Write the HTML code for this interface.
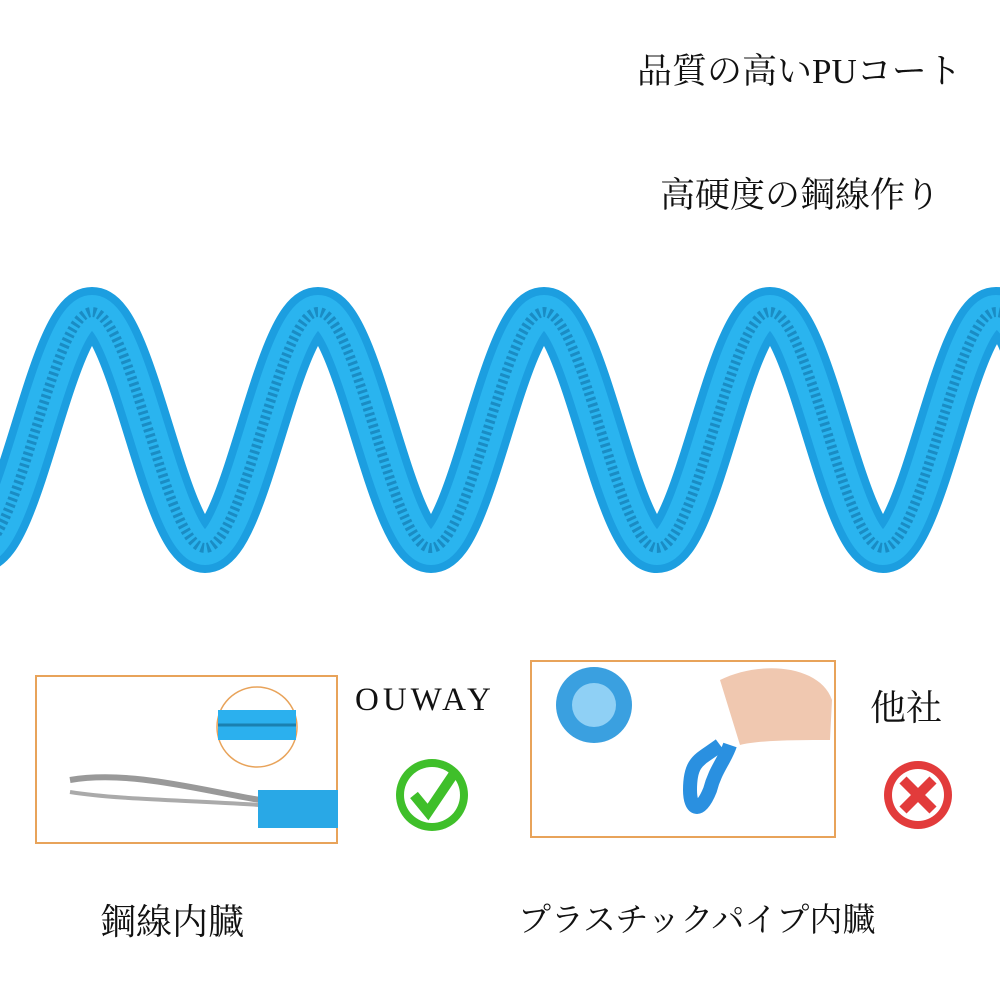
<!DOCTYPE html>
<html><head><meta charset="utf-8"><style>
body{margin:0;width:1000px;height:1000px;background:#fff;overflow:hidden;position:relative;font-family:"Liberation Serif","Noto Serif CJK SC",serif;}
.t{position:absolute;color:#111;white-space:nowrap;}
</style></head><body>
<div class="t" style="left:637px;top:44px;font-size:35px;">品質の高いPUコート</div>
<div class="t" style="left:660px;top:168px;font-size:35px;">高硬度の鋼線作り</div>
<svg width="1000" height="1000" style="position:absolute;left:0;top:0">
<g fill="none" stroke-linecap="butt">
<path d="M-21,548 C19,548 52,312 92,312 C132,312 165,548 205,548 C245,548 278,312 318,312 C358,312 391,548 431,548 C471,548 504,312 544,312 C584,312 617,548 657,548 C697,548 730,312 770,312 C810,312 843,548 883,548 C923,548 956,312 996,312 C1026,312 1040,400 1050,450" stroke="#1c9ee0" stroke-width="50"/>
<path d="M-21,548 C19,548 52,312 92,312 C132,312 165,548 205,548 C245,548 278,312 318,312 C358,312 391,548 431,548 C471,548 504,312 544,312 C584,312 617,548 657,548 C697,548 730,312 770,312 C810,312 843,548 883,548 C923,548 956,312 996,312 C1026,312 1040,400 1050,450" stroke="#2ab4ef" stroke-width="34"/>
<path d="M-21,548 C19,548 52,312 92,312 C132,312 165,548 205,548 C245,548 278,312 318,312 C358,312 391,548 431,548 C471,548 504,312 544,312 C584,312 617,548 657,548 C697,548 730,312 770,312 C810,312 843,548 883,548 C923,548 956,312 996,312 C1026,312 1040,400 1050,450" stroke="#1a8cc4" stroke-width="10" stroke-dasharray="3 3"/>
</g>
<rect x="36" y="676" width="301" height="167" fill="#fff" stroke="#e8a35a" stroke-width="2"/>
<path d="M70,780 C130,770 200,790 260,800" stroke="#999" stroke-width="6" fill="none"/>
<path d="M70,792 C120,800 190,800 260,805" stroke="#aaa" stroke-width="4" fill="none"/>
<rect x="258" y="790" width="80" height="38" fill="#29a8e6"/>
<circle cx="257" cy="727" r="40" fill="#fff" stroke="#e8a35a" stroke-width="1.5"/>
<rect x="218" y="710" width="78" height="30" fill="#2bb0ee"/>
<line x1="218" y1="725" x2="296" y2="725" stroke="#1a80b0" stroke-width="3"/>
<rect x="531" y="661" width="304" height="176" fill="#fff" stroke="#e8a35a" stroke-width="2"/>
<circle cx="594" cy="705" r="38" fill="#3aa0e0"/>
<circle cx="594" cy="705" r="22" fill="#8fd0f5"/>
<path d="M720,680 C760,660 820,665 832,700 L830,740 C800,740 760,740 740,745 Z" fill="#f0c8b0"/>
<path d="M720,745 C700,760 690,760 690,790 C690,810 700,815 710,790 C715,770 725,760 730,745" stroke="#2a90e0" stroke-width="14" fill="none"/>
<circle cx="432" cy="795" r="36" fill="#3fbf2a"/>
<circle cx="432" cy="795" r="28" fill="#fff"/>
<path d="M414,795 L428,812 L455,772" stroke="#3fbf2a" stroke-width="10" fill="none"/>
<circle cx="918" cy="795" r="34" fill="#e23b3b"/>
<circle cx="918" cy="795" r="26" fill="#fff"/>
<path d="M903,780 L933,810 M933,780 L903,810" stroke="#e23b3b" stroke-width="10"/>
</svg>
<div class="t" style="left:355px;top:682px;font-size:33px;letter-spacing:4px;">OUWAY</div>
<div class="t" style="left:870px;top:680px;font-size:36px;">他社</div>
<div class="t" style="left:100px;top:894px;font-size:36px;">鋼線内臓</div>
<div class="t" style="left:518px;top:894px;font-size:33px;">プラスチックパイプ内臓</div>
</body></html>
